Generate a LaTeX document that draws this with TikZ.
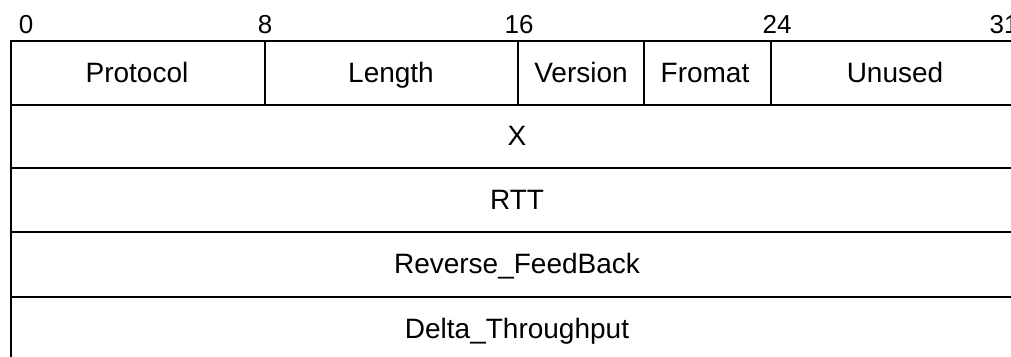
\documentclass[tikz,border=0pt]{standalone}
\usepackage{fontspec}
\setmainfont{Liberation Sans}
\begin{document}
\begin{tikzpicture}[x=1pt,y=-1pt,
  rule/.style={line width=2.8pt,line cap=rect},
  field/.style={font=\fontsize{28}{28}\selectfont,inner sep=0pt,anchor=base},
  bitnum/.style={font=\fontsize{26}{26}\selectfont,inner sep=0pt,anchor=base}]
\useasboundingbox (0,0) rectangle (1011,356);
% outer frame: left edge and row separators (the right side runs off the page)
\draw[rule] (11,370) -- (11,41) -- (1030,41);
\foreach \y in {105,168,232,297}
  \draw[rule] (11,\y) -- (1030,\y);
% field separators in the first word
\foreach \x in {265,518,644,771}
  \draw[rule] (\x,41) -- (\x,105);
% bit numbers
\node[bitnum] (b0)  at (26,33)   {0};
\node[bitnum] (b8)  at (265,33)  {8};
\node[bitnum] (b16) at (519,33)  {16};
\node[bitnum] (b24) at (777,33)  {24};
\node[bitnum] (b31) at (1004,33) {31};
% header fields (baselines set on one line)
\node[field] (protocol) at (137,82) {Protocol};
\node[field] (length)   at (391,82) {Length};
\node[field] (version)  at (581,82) {Version};
\node[field] (fromat)   at (705,82) {Fromat};
\node[field] (unused)   at (895,82) {Unused};
% full-word fields
\node[field] (x)     at (517,145.5) {X};
\node[field] (rtt)   at (517,209.5) {RTT};
\node[field] (rfb)   at (517,273.5) {Reverse\_FeedBack};
\node[field] (dthr)  at (517,338) {Delta\_Throughput};
\end{tikzpicture}
\end{document}
